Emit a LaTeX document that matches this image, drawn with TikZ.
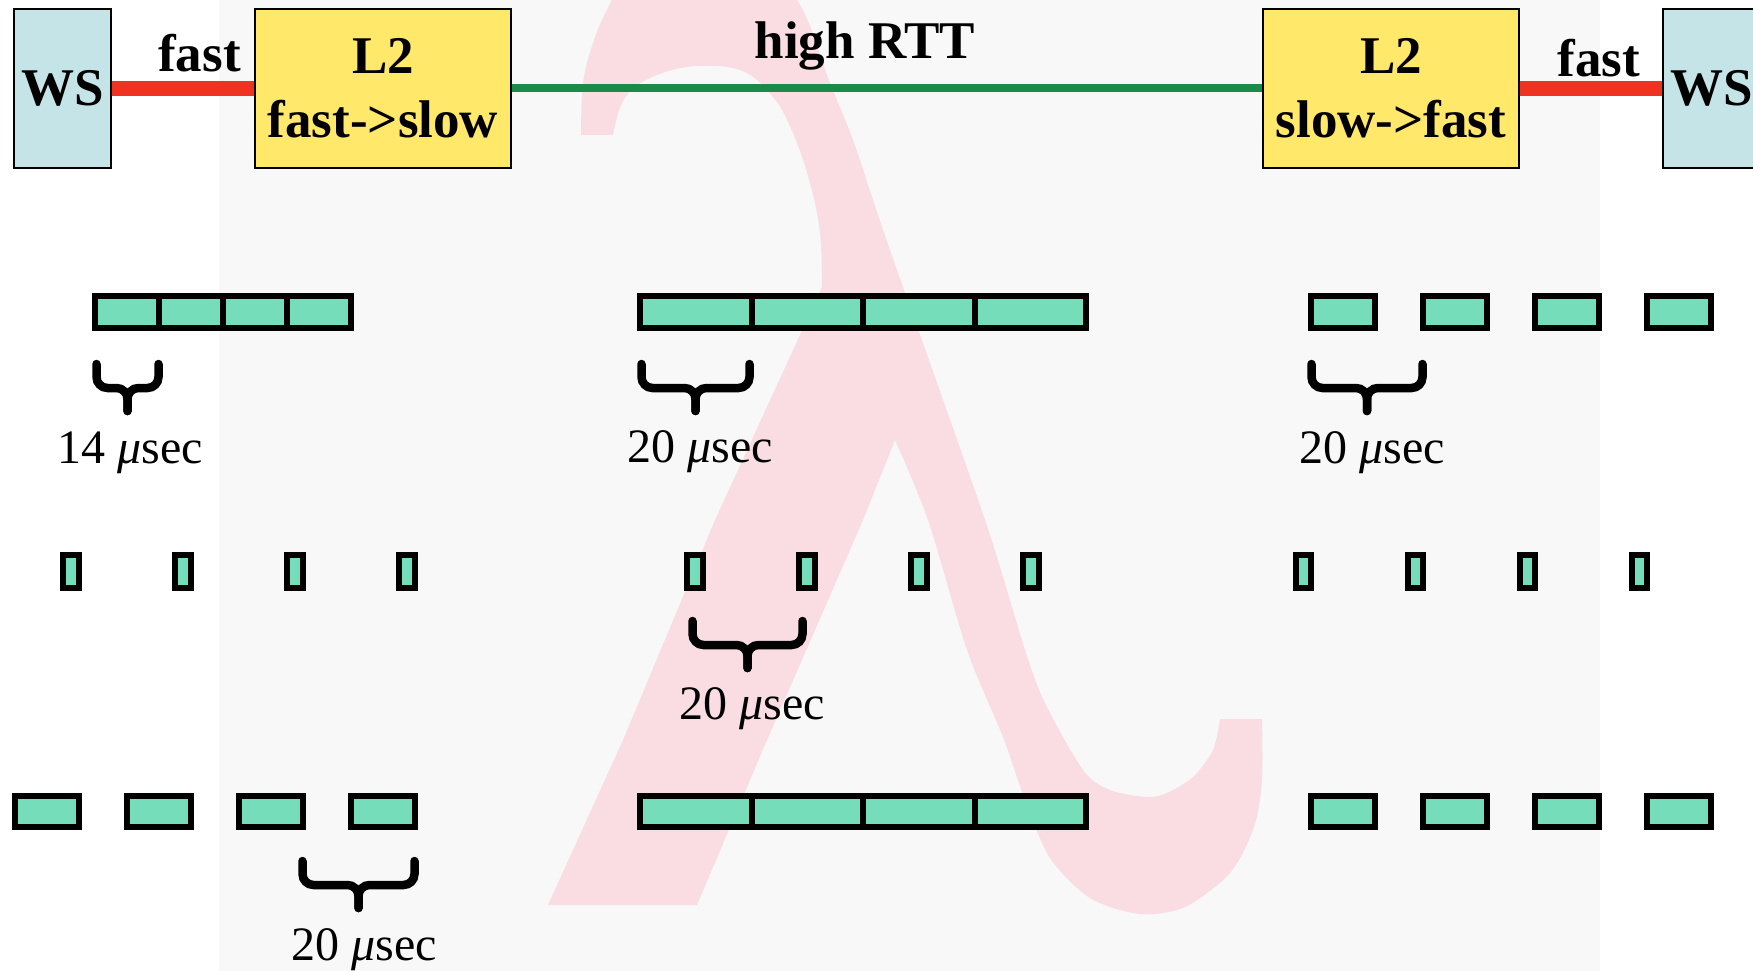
\documentclass[tikz,border=0pt]{standalone}
\usepackage{fontspec}
\setmainfont{Liberation Serif}
\definecolor{bggray}{HTML}{F8F8F8}
\definecolor{lampink}{HTML}{F9DDE3}
\definecolor{wsblue}{HTML}{C5E4E8}
\definecolor{l2yellow}{HTML}{FFE86A}
\definecolor{fastred}{HTML}{F03223}
\definecolor{rttgreen}{HTML}{1A8A48}
\definecolor{pktgreen}{HTML}{75DDBA}
\newcommand{\pktbrace}[4]{%
  \draw[bracestyle] (#1,#4) -- (#1,#4+24) -- (#3,#4+24) -- (#3,#4+47);
  \draw[bracestyle] (#2,#4) -- (#2,#4+24) -- (#3,#4+24) -- (#3,#4+47);
}
\tikzset{
  bigbold/.style={font=\fontsize{53}{64}\selectfont\bfseries},
  usec/.style={font=\fontsize{48}{56}\selectfont, anchor=base, inner sep=0},
  wsbox/.style={draw=black, line width=1.5, fill=wsblue, minimum width=97, minimum height=159, inner sep=0, bigbold},
  l2box/.style={draw=black, line width=1.5, fill=l2yellow, minimum width=256, minimum height=159, inner sep=0, align=center, bigbold},
  redline/.style={draw=fastred, line width=15},
  greenline/.style={draw=rttgreen, line width=8},
  pkt/.style={draw=black, line width=6, fill=pktgreen},
  bracestyle/.style={draw=black, line width=8.5, rounded corners=11, line cap=round},
}
\begin{document}
\begin{tikzpicture}[x=1pt,y=-1pt]
\useasboundingbox (0,0) rectangle (1753,971);
\clip (0,0) rectangle (1753,971);
\fill[white] (0,0) rectangle (1753,971);
\fill[bggray] (219,0) rectangle (1600,971);
% watermark lambda
\fill[lampink]
  (581,135) -- (613,135)
  -- plot[smooth, tension=0.6] coordinates {(613,135) (622,103) (642,82) (687,67) (740,70) (773,97) (793,133) (810,183) (820,233) (822,287)}
  -- (715,520) -- (623,740) -- (548,905) -- (697,905) -- (767,740) -- (863,520) -- (895,440)
  -- plot[smooth, tension=0.5] coordinates {(895,440) (928,520) (967,650) (1003,737) (1025,800) (1050,858) (1090,898) (1140,914) (1185,907) (1230,873) (1254,827) (1262,780) (1262,719)}
  -- (1220,719)
  -- plot[smooth, tension=0.5] coordinates {(1220,719) (1213,750) (1193,777) (1167,793) (1147,797) (1110,790) (1083,770) (1045,703) (1025,650) (985,520) (903,287)}
  -- plot[smooth, tension=0.6] coordinates {(903,287) (890,250) (873,200) (853,140) (830,83) (797,0) (750,-30) (690,-40) (630,-25) (607,10) (593,43) (583,83) (581,135)}
  -- cycle;
% network
\node[wsbox] (ws1) at (62.5,88.5) {WS};
\node[l2box] (l2a) at (383,88.5) {L2\\fast->slow};
\node[l2box] (l2b) at (1391,88.5) {L2\\slow->fast};
\node[wsbox] (ws2) at (1711.5,88.5) {WS};
\draw[redline] (ws1.east) -- (l2a.west);
\draw[greenline] (l2a.east) -- (l2b.west);
\draw[redline] (l2b.east) -- (ws2.west);
\node[bigbold, anchor=base, inner sep=0] (fastL) at (199.5,72) {fast};
\node[bigbold, anchor=base, inner sep=0] (rtt) at (865,59) {high RTT};
\node[bigbold, anchor=base, inner sep=0] (fastR) at (1599,77) {fast};
% row 1
\foreach \i in {0,...,3} \draw[pkt] (95+64*\i,296) rectangle ++(64,32);
\foreach \i in {0,...,3} \draw[pkt] (640+111.5*\i,296) rectangle ++(111.5,32);
\foreach \x in {1311,1423,1535,1647} \draw[pkt] (\x,296) rectangle ++(64,32);
% row 2
\foreach \x in {63,175,287,399} \draw[pkt] (\x,555) rectangle ++(16,33);
\foreach \x in {687,799,911,1023} \draw[pkt] (\x,555) rectangle ++(16,33);
\foreach \x in {1296,1408,1520,1632} \draw[pkt] (\x,555) rectangle ++(15,33);
% row 3
\foreach \x in {15,127,239,351} \draw[pkt] (\x,796) rectangle ++(64,31);
\foreach \i in {0,...,3} \draw[pkt] (640+111.5*\i,796) rectangle ++(111.5,31);
\foreach \x in {1311,1423,1535,1647} \draw[pkt] (\x,796) rectangle ++(64,31);
% braces
\pktbrace{96.5}{158.5}{127.5}{364}
\pktbrace{641.5}{749.5}{695.5}{364}
\pktbrace{1311.5}{1422.5}{1367}{364}
\pktbrace{692.5}{802.5}{747.5}{621}
\pktbrace{302.5}{414.5}{358.5}{861}
% labels
\node[usec] (t1) at (130,463) {14 \textit{μ}sec};
\node[usec] (t2) at (700,462) {20 \textit{μ}sec};
\node[usec] (t3) at (1372,463) {20 \textit{μ}sec};
\node[usec] (t4) at (752,719) {20 \textit{μ}sec};
\node[usec] (t5) at (364,960) {20 \textit{μ}sec};
\end{tikzpicture}
\end{document}
